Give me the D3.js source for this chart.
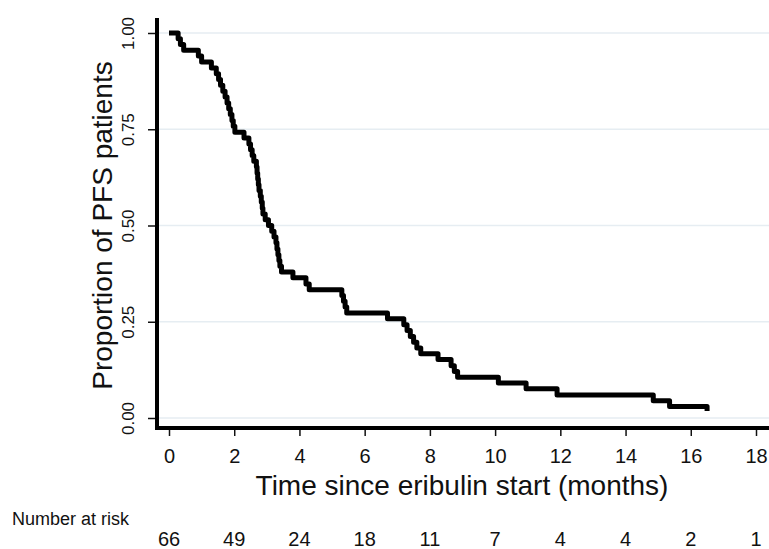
<!DOCTYPE html>
<html>
<head>
<meta charset="utf-8">
<script src="https://cdn.jsdelivr.net/npm/d3@7"></script>
<style>
  body { margin: 0; background: #fff; }
  text { font-family: "Liberation Sans", Arial, sans-serif; fill: #111; }
</style>
</head>
<body>
<svg id="km" width="769" height="549"></svg>
<script>
const svg = d3.select("#km");

// event times (months) and survival proportion after each step
const times = [0, 0.28, 0.35, 0.45, 0.9, 1.0, 1.3, 1.45, 1.52, 1.58, 1.65, 1.72,
  1.78, 1.83, 1.88, 1.93, 1.97, 2.02, 2.3, 2.45, 2.5, 2.55, 2.6, 2.68,
  2.7, 2.72, 2.74, 2.76, 2.8, 2.83, 2.86, 2.88, 2.95, 3.05, 3.15, 3.22,
  3.28, 3.31, 3.34, 3.37, 3.4, 3.45, 3.8, 4.2, 4.3, 5.3, 5.35, 5.4, 5.45,
  6.7, 7.2, 7.3, 7.4, 7.5, 7.6, 7.72, 8.25, 8.65, 8.75, 8.85, 10.1, 10.95,
  11.9, 14.85, 15.35, 16.5];
const surv = [1.0, 0.985, 0.970, 0.955, 0.940, 0.925, 0.909, 0.894, 0.879, 0.864, 0.849, 0.834,
  0.818, 0.803, 0.788, 0.773, 0.758, 0.742, 0.727, 0.712, 0.697, 0.682, 0.667, 0.652,
  0.636, 0.621, 0.606, 0.591, 0.576, 0.561, 0.545, 0.530, 0.515, 0.500, 0.485, 0.470,
  0.455, 0.439, 0.424, 0.409, 0.394, 0.379, 0.364, 0.348, 0.333, 0.318, 0.303, 0.288, 0.273,
  0.258, 0.242, 0.227, 0.212, 0.197, 0.182, 0.167, 0.152, 0.136, 0.121, 0.106, 0.091, 0.076,
  0.060, 0.045, 0.030, 0.018];
const endTime = 16.5;

const xTicks = [0, 2, 4, 6, 8, 10, 12, 14, 16, 18];
const yTicks = [0, 0.25, 0.5, 0.75, 1];
const atRisk = [66, 49, 24, 18, 11, 7, 4, 4, 2, 1];

const x = d3.scaleLinear().domain([0, 18]).range([169, 756]);
const y = d3.scaleLinear().domain([0, 1]).range([418, 33]);

// grid
svg.append("g")
  .selectAll("line")
  .data(yTicks)
  .join("line")
  .attr("x1", 157)
  .attr("x2", 769)
  .attr("y1", d => y(d))
  .attr("y2", d => y(d))
  .attr("stroke", "#e6edf2")
  .attr("stroke-width", 1.5);

// y axis
const yAxis = svg.append("g")
  .attr("transform", "translate(157,0)")
  .call(d3.axisLeft(y).tickValues(yTicks).tickSize(9).tickFormat(d3.format(".2f")));
yAxis.select(".domain").remove();
yAxis.selectAll(".tick line").attr("stroke", "#111").attr("stroke-width", 1.5);
yAxis.selectAll(".tick text")
  .attr("transform", "rotate(-90)")
  .attr("x", 0)
  .attr("y", -23)
  .attr("dy", 0)
  .attr("text-anchor", "middle")
  .style("font-size", "17px")
  .style("font-family", "'Liberation Sans', Arial, sans-serif")
  .attr("fill", "#111");

// x axis
const xAxis = svg.append("g")
  .attr("transform", "translate(0,428)")
  .call(d3.axisBottom(x).tickValues(xTicks).tickSize(8));
xAxis.select(".domain").remove();
xAxis.selectAll(".tick line").attr("stroke", "#111").attr("stroke-width", 1.5);
xAxis.selectAll(".tick text")
  .attr("y", 35)
  .attr("dy", 0)
  .style("font-size", "20px")
  .style("font-family", "'Liberation Sans', Arial, sans-serif")
  .attr("fill", "#111");

// axis lines
svg.append("line")
  .attr("x1", 157).attr("x2", 157).attr("y1", 18).attr("y2", 430)
  .attr("stroke", "#000").attr("stroke-width", 4);
svg.append("line")
  .attr("x1", 155).attr("x2", 769).attr("y1", 428).attr("y2", 428)
  .attr("stroke", "#000").attr("stroke-width", 4);

// KM step line
const pts = times.map((t, i) => [t, surv[i]]);
pts.push([endTime, surv[surv.length - 1]]);
const line = d3.line()
  .x(d => x(d[0]))
  .y(d => y(d[1]))
  .curve(d3.curveStepAfter);
svg.append("path")
  .attr("d", line(pts))
  .attr("fill", "none")
  .attr("stroke", "#000")
  .attr("stroke-width", 5)
  .attr("stroke-linejoin", "round");

// titles
svg.append("text")
  .attr("x", 462)
  .attr("y", 495)
  .attr("text-anchor", "middle")
  .style("font-size", "28px")
  .text("Time since eribulin start (months)");

svg.append("text")
  .attr("transform", `translate(112,${y(0.5)}) rotate(-90)`)
  .attr("text-anchor", "middle")
  .style("font-size", "28px")
  .text("Proportion of PFS patients");

// number at risk
svg.append("text")
  .attr("x", 12)
  .attr("y", 525)
  .style("font-size", "18px")
  .text("Number at risk");

svg.append("g")
  .selectAll("text")
  .data(atRisk)
  .join("text")
  .attr("x", (d, i) => x(xTicks[i]))
  .attr("y", 546)
  .attr("text-anchor", "middle")
  .style("font-size", "20px")
  .text(d => d);
</script>
</body>
</html>
